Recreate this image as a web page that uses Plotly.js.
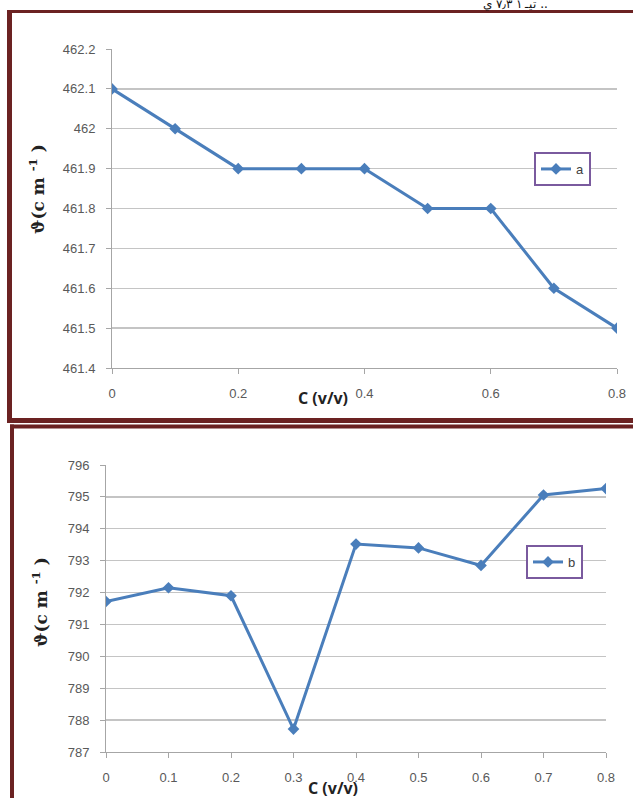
<!DOCTYPE html>
<html>
<head>
<meta charset="utf-8">
<script src="https://cdn.plot.ly/plotly-3.0.1.min.js"></script>
<style>html,body{margin:0;padding:0;background:#fff;}#chart{width:633px;height:798px;}</style>
</head>
<body>
<div id="chart"></div>
<script>
// ---- data ----
var concentration = [0, 0.1, 0.2, 0.3, 0.4, 0.5, 0.6, 0.7, 0.8];
var waveA = [462.1, 462.0, 461.9, 461.9, 461.9, 461.8, 461.8, 461.6, 461.5];
var waveB = [791.72, 792.15, 791.9, 787.72, 793.52, 793.4, 792.85, 795.06, 795.26];
var seriesNames = ['a', 'b'];
var xTicksTop = [0, 0.2, 0.4, 0.6, 0.8];
var xTickTextTop = ['0', '0.2', '0.4', '0.6', '0.8'];
var xTicksBottom = [0, 0.1, 0.2, 0.3, 0.4, 0.5, 0.6, 0.7, 0.8];
var xTickTextBottom = ['0', '0.1', '0.2', '0.3', '0.4', '0.5', '0.6', '0.7', '0.8'];
var yTicksTop = [461.4, 461.5, 461.6, 461.7, 461.8, 461.9, 462, 462.1, 462.2];
var yTickTextTop = ['461.4', '461.5', '461.6', '461.7', '461.8', '461.9', '462', '462.1', '462.2'];
var yTicksBottom = [787, 788, 789, 790, 791, 792, 793, 794, 795, 796];
var xTitle = 'C (v/v)';
var yTitle = '<b>ϑ(c m <sup>-1</sup> )</b>';

// ---- layout helpers ----
var W = 633, H = 798;
function px(x) { return x / W; }
function py(y) { return 1 - y / H; }

var blue = '#4a7ebb';
var grid = '#c4c4c4';
var tickFont = {family: 'Liberation Sans, Arial, sans-serif', size: 13, color: '#595959'};
var maroon = '#6b2222';

function xaxisCfg(domain, ticks, text, anchor) {
  return {
    domain: domain, anchor: anchor, range: [0, 0.8], tickmode: 'array', tickvals: ticks, ticktext: text,
    showgrid: false, zeroline: false, showline: true, linecolor: '#a6a6a6', linewidth: 1,
    ticks: 'outside', ticklen: 5, tickcolor: '#a6a6a6', tickfont: tickFont,
    ticklabelstandoff: 8, fixedrange: true
  };
}
function yaxisCfg(domain, range, ticks, text, anchor) {
  var c = {
    domain: domain, anchor: anchor, range: range, tickmode: 'array', tickvals: ticks,
    showgrid: true, gridcolor: grid, gridwidth: 1.3, zeroline: false, showline: true,
    linecolor: '#a6a6a6', linewidth: 1, ticks: 'outside', ticklen: 5, tickcolor: '#a6a6a6',
    tickfont: tickFont, ticklabelstandoff: 8, fixedrange: true
  };
  if (text) c.ticktext = text;
  return c;
}

var traces = [
  {x: concentration, y: waveA, name: seriesNames[0], xaxis: 'x', yaxis: 'y', legend: 'legend',
   mode: 'lines+markers', line: {color: blue, width: 3}, marker: {symbol: 'diamond', size: 9, color: blue}},
  {x: concentration, y: waveB, name: seriesNames[1], xaxis: 'x2', yaxis: 'y2', legend: 'legend2',
   mode: 'lines+markers', line: {color: blue, width: 3}, marker: {symbol: 'diamond', size: 9, color: blue}}
];

var legendCommon = {
  bgcolor: '#ffffff', bordercolor: '#7a5a9e', borderwidth: 2,
  font: {family: 'Liberation Sans, Arial, sans-serif', size: 13, color: '#404040'},
  xanchor: 'left', yanchor: 'top', itemwidth: 30, tracegroupgap: 0
};

function ann(x, y, text, font, angle) {
  var a = {xref: 'paper', yref: 'paper', x: px(x), y: py(y), text: text, showarrow: false,
           xanchor: 'center', yanchor: 'middle', font: font};
  if (angle) a.textangle = angle;
  return a;
}
var xTitleFont = {family: 'Open Sans, Liberation Sans, sans-serif', size: 16, color: '#222'};
var yTitleFont = {family: 'DejaVu Serif, serif', size: 17, color: '#222'};

var layout = {
  width: W, height: H, margin: {l: 0, r: 0, t: 0, b: 0},
  paper_bgcolor: '#ffffff', plot_bgcolor: '#ffffff', showlegend: true,
  xaxis: xaxisCfg([px(112), px(617)], xTicksTop, xTickTextTop, 'y'),
  yaxis: yaxisCfg([py(368), py(49)], [461.4, 462.2], yTicksTop, yTickTextTop, 'x'),
  xaxis2: xaxisCfg([px(106), px(606)], xTicksBottom, xTickTextBottom, 'y2'),
  yaxis2: yaxisCfg([py(752), py(465)], [787, 796], yTicksBottom, null, 'x2'),
  legend: Object.assign({x: px(534), y: py(152)}, legendCommon),
  legend2: Object.assign({x: px(526), y: py(545)}, legendCommon),
  annotations: [
    ann(323, 398, '<b>' + xTitle + '</b>', xTitleFont),
    ann(333, 788, '<b>' + xTitle + '</b>', xTitleFont),
    ann(37, 189, yTitle, yTitleFont, -90),
    ann(40, 602, yTitle, yTitleFont, -90),
    ann(515, 4, 'تيـ ١ ٧٫٣ ي ..', {family: 'DejaVu Serif, serif', size: 12, color: '#111'})
  ],
  shapes: [
    // top box
    {type: 'line', xref: 'paper', yref: 'paper', x0: px(7), x1: px(633), y0: py(11.5), y1: py(11.5), line: {color: maroon, width: 3}},
    {type: 'line', xref: 'paper', yref: 'paper', x0: px(9.5), x1: px(9.5), y0: py(10), y1: py(423), line: {color: maroon, width: 5}},
    {type: 'line', xref: 'paper', yref: 'paper', x0: px(7), x1: px(633), y0: py(420.5), y1: py(420.5), line: {color: maroon, width: 5}},
    // bottom box
    {type: 'line', xref: 'paper', yref: 'paper', x0: px(10), x1: px(633), y0: py(426.5), y1: py(426.5), line: {color: maroon, width: 4}},
    {type: 'line', xref: 'paper', yref: 'paper', x0: px(12), x1: px(12), y0: py(424.5), y1: py(798), line: {color: maroon, width: 4}}
  ]
};

Plotly.newPlot('chart', traces, layout, {displayModeBar: false, staticPlot: true});
</script>
</body>
</html>
